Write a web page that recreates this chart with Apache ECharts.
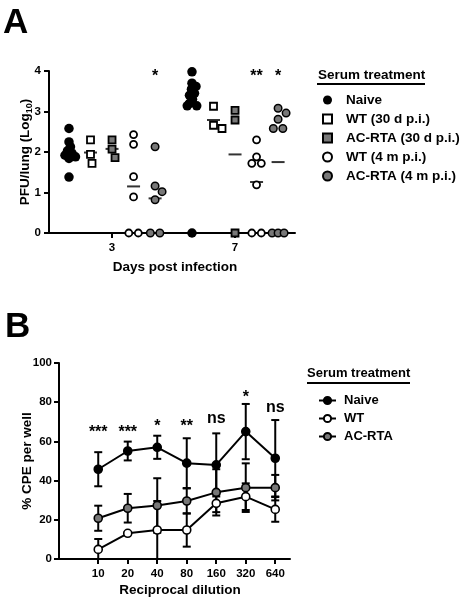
<!DOCTYPE html>
<html><head><meta charset="utf-8">
<script src="https://cdn.jsdelivr.net/npm/echarts@6/dist/echarts.min.js"></script>
<style>html,body{margin:0;padding:0;background:#fff}#main{width:461px;height:600px}</style>
</head><body><div id="main"></div>
<script>
// ---------------- DATA: panel A (PFU/lung, log10) ----------------
const days = [3, 7];
const groupNames = ['Naive', 'WT (30 d p.i.)', 'AC-RTA (30 d p.i.)', 'WT (4 m p.i.)', 'AC-RTA (4 m p.i.)'];
const naiveDay3 = [2.58, 2.25, 2.13, 2.03, 1.97, 1.92, 1.88, 1.84, 1.38];
const naiveDay7 = [3.98, 3.70, 3.62, 3.55, 3.45, 3.40, 3.30, 3.20, 3.14, 3.14, 0];
const wt30Day3 = [2.30, 1.94, 1.72];
const wt30Day7 = [3.13, 2.66, 2.58];
const ac30Day3 = [2.30, 2.07, 1.86];
const ac30Day7 = [3.03, 2.79, 0];
const wt4mDay3 = [2.43, 2.19, 1.39, 0.89, 0, 0];
const wt4mDay7 = [2.30, 1.88, 1.72, 1.72, 1.19, 0, 0];
const ac4mDay3 = [2.13, 1.16, 1.02, 0.82, 0, 0];
const ac4mDay7 = [3.08, 2.96, 2.81, 2.58, 2.58, 0, 0, 0];
const sigADays = [3, 7, 7];
const sigAGroups = [4, 3, 4];
const sigALabels = ['*', '**', '*'];
const sigAHeights = [3.86, 3.86, 3.86];

// ---------------- DATA: panel B (% CPE per well) ----------------
const dilutions = ['10', '20', '40', '80', '160', '320', '640'];
const namesB = ['Naive', 'WT', 'AC-RTA'];
const naiveMean = [45.8, 55.1, 57.0, 48.9, 48.0, 65.0, 51.4];
const naiveSD   = [8.7, 4.8, 5.9, 12.7, 16.1, 14.1, 19.5];
const wtMean    = [4.9, 13.1, 14.8, 14.8, 28.4, 31.8, 25.3];
const wtSD      = [5.3, 0.5, 14.8, 8.5, 4.5, 6.8, 6.3];
const acMean    = [20.8, 25.9, 27.3, 29.6, 34.0, 36.4, 36.4];
const acSD      = [6.4, 7.3, 13.9, 6.4, 11.8, 12.4, 6.5];
const thresholdB = 60;
const sigBLabels = ['***', '***', '*', '**', 'ns', '*', 'ns'];
const sigBHeights = [64.5, 64.5, 67.5, 67.5, 71.5, 82.5, 77.5];

// ---------------- LAYOUT / STYLE ----------------
const FONT = '"Liberation Sans", Arial, sans-serif';
const GRAY = '#787878';
const gridA = {left: 49, top: 71, width: 246, height: 162};
const gridB = {left: 59, top: 363, width: 231, height: 196};
const xMinA = 0.95, xMaxA = 8.95;
const KX = gridA.width / (xMaxA - xMinA);
const KY = gridA.height / 4;
const groupOffset = [-1.4, -0.7, 0, 0.7, 1.4];
const styleA = [
  {symbol: 'circle', size: 9.5, fill: '#000', bw: 0, D: 5},
  {symbol: 'rect', size: 7, fill: '#fff', bw: 1.8, D: 9},
  {symbol: 'rect', size: 7, fill: GRAY, bw: 1.8, D: 9},
  {symbol: 'circle', size: 7, fill: '#fff', bw: 1.8, D: 9},
  {symbol: 'circle', size: 7.5, fill: GRAY, bw: 1.5, D: 9}
];
const groupData = [
  [naiveDay3, naiveDay7], [wt30Day3, wt30Day7], [ac30Day3, ac30Day7],
  [wt4mDay3, wt4mDay7], [ac4mDay3, ac4mDay7]
];

// simple beeswarm (pixel offsets) so points of a group do not pile up
function swarm(vals, D) {
  const idx = vals.map((v, i) => i).sort((a, b) => vals[b] - vals[a]);
  const placed = [], off = new Array(vals.length).fill(0);
  for (const i of idx) {
    const y = vals[i] * KY;
    let dx = 0;
    outer: for (let s = 0; s <= 60; s += 0.5) {
      for (const c of (s === 0 ? [0] : [s, -s])) {
        if (placed.every(p => (p.x - c) ** 2 + (p.y - y) ** 2 >= D * D)) { dx = c; break outer; }
      }
    }
    placed.push({x: dx, y}); off[i] = dx;
  }
  const ties = {};
  vals.forEach((v, i) => { (ties[v] = ties[v] || []).push(i); });
  Object.values(ties).forEach(g => {
    if (g.length > 1) {
      const n = g.length, sp = n > 2 ? 6 : 9.5;
      g.forEach((i, k) => { off[i] = (k - (n - 1) / 2) * sp; });
    }
  });
  return off;
}
const mean = a => a.reduce((s, v) => s + v, 0) / a.length;

// annotation text drawn through the axes' coordinate system
function textSeries(xi, yi, labels, xs, ys) {
  return {
    type: 'custom', xAxisIndex: xi, yAxisIndex: yi, z: 10, silent: true, clip: false,
    data: labels.map((t, i) => [xs[i], ys[i], i]),
    renderItem: (params, api) => {
      const p = api.coord([api.value(0), api.value(1)]);
      return {type: 'text', x: p[0], y: p[1], style: {
        text: labels[api.value(2)], fill: '#000', font: 'bold 16px ' + FONT,
        align: 'center', verticalAlign: 'middle'
      }};
    }
  };
}

const series = [];
const meanData = [];
groupData.forEach((g, gi) => {
  days.forEach((d, di) => { meanData.push([d + groupOffset[gi], mean(g[di])]); });
});
series.push({
  type: 'scatter', xAxisIndex: 0, yAxisIndex: 0, data: meanData, symbol: 'rect',
  symbolSize: [13, 2], itemStyle: {color: '#000'}, z: 2, silent: true
});
groupData.forEach((g, gi) => {
  const st = styleA[gi];
  const data = [];
  days.forEach((d, di) => {
    const off = swarm(g[di], st.D);
    g[di].forEach((v, j) => data.push([d + groupOffset[gi] + off[j] / KX, v]));
  });
  series.push({
    type: 'scatter', name: groupNames[gi], xAxisIndex: 0, yAxisIndex: 0, data,
    symbol: st.symbol, symbolSize: st.size, z: 3 + gi, silent: true,
    itemStyle: {color: st.fill, borderColor: '#000', borderWidth: st.bw, opacity: 1}
  });
});
series.push(textSeries(0, 0, sigALabels,
  sigADays.map((d, i) => d + groupOffset[sigAGroups[i]]), sigAHeights));

// ---- panel B ----
const bMeans = [naiveMean, wtMean, acMean];
const bSDs = [naiveSD, wtSD, acSD];
const bFill = ['#000', '#fff', GRAY];
const legendNamesB = ['Naive ', 'WT', 'AC-RTA'];
bMeans.forEach((m, si) => {
  series.push({
    type: 'custom', xAxisIndex: 1, yAxisIndex: 1, z: 2, silent: true, clip: true,
    data: m.map((v, i) => [i, Math.max(0, v - bSDs[si][i]), v + bSDs[si][i]]),
    renderItem: (params, api) => {
      const x = api.value(0);
      const hi = api.coord([x, api.value(2)]), lo = api.coord([x, api.value(1)]);
      const st = {stroke: '#000', lineWidth: 2};
      const w = 4;
      return {type: 'group', children: [
        {type: 'line', shape: {x1: hi[0], y1: hi[1], x2: lo[0], y2: lo[1]}, style: st},
        {type: 'line', shape: {x1: hi[0] - w, y1: hi[1], x2: hi[0] + w, y2: hi[1]}, style: st},
        {type: 'line', shape: {x1: lo[0] - w, y1: lo[1], x2: lo[0] + w, y2: lo[1]}, style: st}
      ]};
    }
  });
});
bMeans.forEach((m, si) => {
  const s = {
    type: 'line', name: legendNamesB[si], xAxisIndex: 1, yAxisIndex: 1, z: 5 + si, silent: true,
    data: m.map((v, i) => [i, v]), symbol: 'circle', symbolSize: 8, showSymbol: true,
    lineStyle: {color: '#000', width: 2},
    itemStyle: {color: bFill[si], borderColor: '#000', borderWidth: 1.6}
  };
  if (si === 0) {
    s.markLine = {
      silent: true, symbol: ['none', 'none'], label: {show: false},
      lineStyle: {color: '#000', width: 2, type: [6, 4]},
      data: [[{coord: [-0.5, thresholdB]}, {coord: [6.55, thresholdB]}]]
    };
  }
  series.push(s);
});
series.push(textSeries(1, 1, sigBLabels, dilutions.map((d, i) => i), sigBHeights));

const axisCommon = {
  nameMoveOverlap: false,
  axisLine: {show: true, onZero: false, lineStyle: {color: '#000', width: 2}},
  axisTick: {show: true, inside: false, length: 5, lineStyle: {color: '#000', width: 2}},
  splitLine: {show: false},
  axisLabel: {color: '#000', fontWeight: 'bold', fontSize: 11.5, fontFamily: FONT},
  nameTextStyle: {color: '#000', fontWeight: 'bold', fontSize: 13.5, fontFamily: FONT}
};
const merge = (o) => Object.assign({}, axisCommon, o, {
  axisLabel: Object.assign({}, axisCommon.axisLabel, o.axisLabel || {}),
  axisTick: Object.assign({}, axisCommon.axisTick, o.axisTick || {}),
  nameTextStyle: Object.assign({}, axisCommon.nameTextStyle, o.nameTextStyle || {})
});

const legendText = (fs, pad) => ({color: '#000', fontWeight: 'bold', fontSize: fs, fontFamily: FONT, padding: [0, 0, 0, pad]});

const option = {
  animation: false,
  backgroundColor: '#fff',
  grid: [
    Object.assign({containLabel: false}, gridA),
    Object.assign({containLabel: false}, gridB)
  ],
  xAxis: [
    merge({
      type: 'value', gridIndex: 0, min: xMinA, max: xMaxA,
      name: 'Days post infection', nameLocation: 'middle', nameGap: 27,
      nameTextStyle: {padding: [0, 0, 0, 6]},
      axisTick: {customValues: days},
      axisLabel: {customValues: days, margin: 9, formatter: v => String(Math.round(v))}
    }),
    merge({
      type: 'value', gridIndex: 1, min: -1.33, max: 6.5,
      name: 'Reciprocal dilution', nameLocation: 'middle', nameGap: 24,
      nameTextStyle: {padding: [0, 0, 0, 11]},
      axisTick: {customValues: dilutions.map((d, i) => i)},
      axisLabel: {customValues: dilutions.map((d, i) => i), margin: 9, formatter: v => dilutions[Math.round(v)]}
    })
  ],
  yAxis: [
    merge({
      type: 'value', gridIndex: 0, min: 0, max: 4, interval: 1,
      name: '{t|PFU/lung (Log}{s|10}{t|)}', nameLocation: 'middle', nameGap: 15,
      axisLabel: {margin: 8},
      nameTextStyle: {rich: {
        t: {fontSize: 13.5, fontWeight: 'bold', fontFamily: FONT, color: '#000', lineHeight: 17},
        s: {fontSize: 9, fontWeight: 'bold', fontFamily: FONT, color: '#000', lineHeight: 9, verticalAlign: 'bottom'}
      }}
    }),
    merge({
      type: 'value', gridIndex: 1, min: 0, max: 100, interval: 20,
      name: '% CPE per well', nameLocation: 'middle', nameGap: 25,
      axisLabel: {margin: 7}
    })
  ],
  legend: [
    {
      data: groupNames, orient: 'vertical', left: 317, top: 88, itemWidth: 9, itemHeight: 9, itemGap: 5,
      selectedMode: false, textStyle: legendText(13.5, 9), itemStyle: {borderColor: '#000'}
    },
    {
      data: legendNamesB, orient: 'vertical', left: 313, top: 389, itemWidth: 17, itemHeight: 9, itemGap: 5,
      selectedMode: false, textStyle: legendText(13, 3)
    }
  ],
  graphic: [
    {type: 'text', left: 3, top: 6, style: {text: 'A', font: 'bold 35px ' + FONT, fill: '#000'}},
    {type: 'text', left: 5, top: 310, style: {text: 'B', font: 'bold 35px ' + FONT, fill: '#000'}},
    {type: 'text', left: 318, top: 68, style: {text: 'Serum treatment', font: 'bold 13.5px ' + FONT, fill: '#000'}},
    {type: 'line', shape: {x1: 317, y1: 84, x2: 425, y2: 84}, style: {stroke: '#000', lineWidth: 2}},
    {type: 'text', left: 307, top: 367, style: {text: 'Serum treatment', font: 'bold 13px ' + FONT, fill: '#000'}},
    {type: 'line', shape: {x1: 307, y1: 383, x2: 410, y2: 383}, style: {stroke: '#000', lineWidth: 2}}
  ],
  series
};
const chart = echarts.init(document.getElementById('main'), null, {renderer: 'canvas'});
chart.setOption(option);
</script>
</body></html>
